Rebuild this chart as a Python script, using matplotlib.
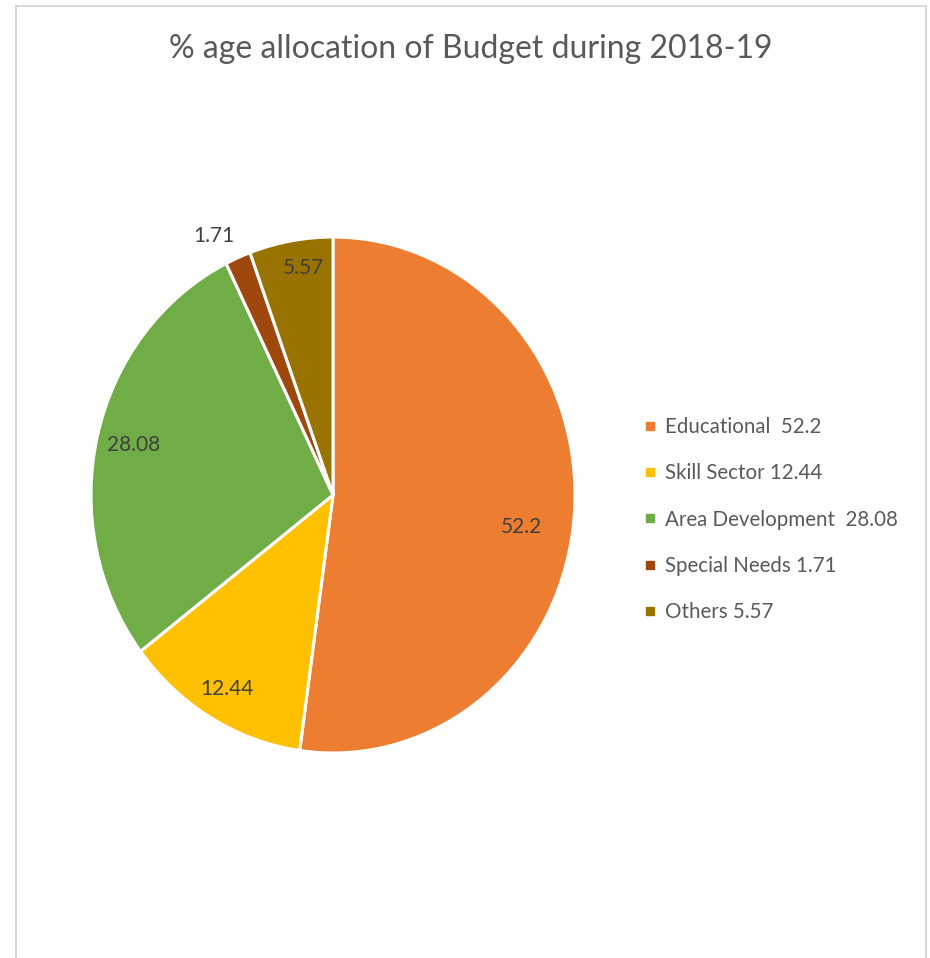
import matplotlib
matplotlib.use("Agg")
import matplotlib.pyplot as plt
from matplotlib.patches import Rectangle
from matplotlib.lines import Line2D
import numpy as np

title = "% age allocation of Budget during 2018-19"
categories = ["Educational", "Skill Sector", "Area Development", "Special Needs", "Others"]
values = [52.2, 12.44, 28.08, 1.71, 5.57]
value_labels = ["52.2", "12.44", "28.08", "1.71", "5.57"]
legend_labels = ["Educational  52.2", "Skill Sector 12.44", "Area Development  28.08",
                 "Special Needs 1.71", "Others 5.57"]
colors = ["#ED7D31", "#FFC000", "#70AD47", "#9E480E", "#997300"]

FONT = ["Lato", "DejaVu Sans"]
W, H = 930, 958
fig = plt.figure(figsize=(W / 100, H / 100), dpi=100)
fig.patch.set_facecolor("white")

# outer chart border
fig.add_artist(Rectangle((16 / W, -0.05), (926 - 16) / W, 1.05 - 6 / H,
                         transform=fig.transFigure, fill=False,
                         edgecolor="#D9D9D9", linewidth=1.5))

cx, cy, rx, ry = 333, 495, 242, 258
ax = fig.add_axes([(cx - rx) / W, (H - cy - ry) / H, 2 * rx / W, 2 * ry / H])
wedges, _ = ax.pie(values, colors=colors, startangle=90, counterclock=False,
                   wedgeprops=dict(edgecolor="white", linewidth=2.2))
ax.set_aspect("auto")
ax.set_xlim(-1, 1)
ax.set_ylim(-1, 1)
ax.axis("off")

label_dist = [0.79, 0.87, 0.845, 1.12, 0.89]
angle_shift = [-5, 0, 0, 3, -2]
for w, lab, d, s in zip(wedges, value_labels, label_dist, angle_shift):
    mid = np.deg2rad((w.theta1 + w.theta2) / 2 + s)
    ax.text(d * np.cos(mid), d * np.sin(mid), lab, ha="center", va="center",
            fontsize=15, color="#404040", family=FONT)

fig.text(471 / W, 1 - 49 / H, title, ha="center", va="center",
         fontsize=23, color="#595959", family=FONT)

handles = [Line2D([0], [0], marker="s", linestyle="none", markersize=6,
                  markerfacecolor=c, markeredgecolor=c) for c in colors]
leg = fig.legend(handles, legend_labels, loc="upper left",
                 bbox_to_anchor=(644 / W, 1 - 417 / H), frameon=False,
                 prop=dict(family=FONT, size=14.8), labelcolor="#595959",
                 handlelength=0.6, handletextpad=0.42, labelspacing=1.28,
                 borderpad=0, borderaxespad=0)

fig.savefig("out.png", dpi=100)
